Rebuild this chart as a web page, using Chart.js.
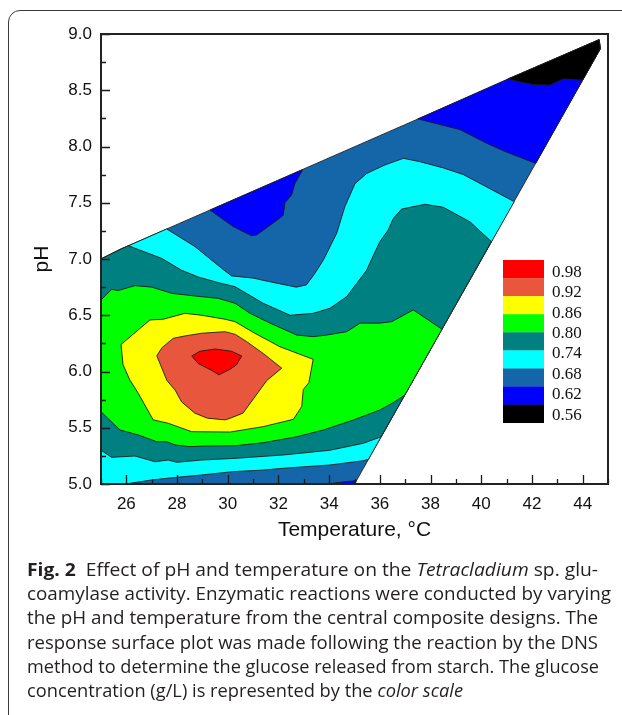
<!DOCTYPE html>
<html><head><meta charset="utf-8">
<script src="https://cdn.jsdelivr.net/npm/chart.js@4.4.1/dist/chart.umd.min.js"></script>
<style>
html,body{margin:0;padding:0;background:#fff;width:622px;height:715px;overflow:hidden;}
#frame{position:absolute;left:8px;top:10px;width:700px;height:800px;border:1px solid #3a3a3a;border-radius:12px;box-sizing:border-box;}
#wrap{position:absolute;left:0;top:0;width:622px;height:560px;}
#cap{position:absolute;left:27px;top:557px;font-family:"Open Sans","Noto Sans",sans-serif;font-size:18px;color:#231f20;}
#cap div{height:24.2px;line-height:24.2px;white-space:nowrap;}
.ln{display:inline-block;transform-origin:0 50%;}
</style></head>
<body>
<div id="frame"></div>
<div id="wrap"><canvas id="c"></canvas></div>
<div id="cap">
<div><span class="ln" data-w="571"><b>Fig. 2</b>&nbsp;&nbsp;Effect of pH and temperature on the <i>Tetracladium</i> sp. glu-</span></div>
<div><span class="ln" data-w="584">coamylase activity. Enzymatic reactions were conducted by varying</span></div>
<div><span class="ln" data-w="571">the pH and temperature from the central composite designs. The</span></div>
<div><span class="ln" data-w="571">response surface plot was made following the reaction by the DNS</span></div>
<div><span class="ln" data-w="572">method to determine the glucose released from starch. The glucose</span></div>
<div><span class="ln" data-w="436">concentration (g/L) is represented by the <i>color scale</i></span></div>
</div>
<script>
// ---- data (Temperature °C, pH) ----
const xTicks = [26, 28, 30, 32, 34, 36, 38, 40, 42, 44];
const yTicks = [5.0, 5.5, 6.0, 6.5, 7.0, 7.5, 8.0, 8.5, 9.0];
const levels = [0.98, 0.92, 0.86, 0.80, 0.74, 0.68, 0.62, 0.56];
const bandColors = ['#ff0000', '#e8573d', '#ffff00', '#00ff00', '#008080', '#00ffff', '#1565a9', '#0000ff', '#000000'];

const domain = [[25,5],[25,7.0],[25.8,7.09],[44.65,8.95],[44.7,8.87],[35,5],[25,5]];
const blueTop = [[37.5,8.245],[41.05,8.6],[44.65,8.95],[44.7,8.87],[44.0,8.59],[42.15,7.85],[41.0,7.95],[40.2,8.03],[39.16,8.15],[37.5,8.245]];
const blackTop = [[41.05,8.6],[44.65,8.95],[44.7,8.87],[44.0,8.59],[43.24,8.6],[42.7,8.545],[42.07,8.55],[41.5,8.575],[41.05,8.6]];
const blueLeft = [[29.3,7.435],[32.96,7.795],[32.65,7.67],[32.52,7.57],[32.26,7.5],[32.19,7.39],[32.13,7.376],[31.14,7.213],[30.94,7.207],[30.61,7.243],[30.2,7.29],[29.3,7.435]];
const blueBottom = [[33.9,5.0],[34.6,5.02],[35.07,5.03],[35.0,5.0],[33.9,5.0]];
const cyanBand = [[25,5],[25,7.0],[25.8,7.09],[27.59,7.267],[28.71,7.11],[29.76,6.917],[30.15,6.85],[31.03,6.83],[31.4,6.81],[32.7,6.75],[33.1,6.77],[33.4,6.86],[33.77,6.99],[34.3,7.23],[34.62,7.465],[35.02,7.67],[35.48,7.76],[36.2,7.836],[36.93,7.895],[37.58,7.865],[38.5,7.81],[39.3,7.75],[40.19,7.643],[41.3,7.51],[35.55,5.22],[35.35,5.207],[34.03,5.169],[32.19,5.14],[31.4,5.124],[30.2,5.11],[28.97,5.08],[27.99,5.06],[27.0,5.036],[25.95,5.0],[25,5]];
const tealBand = [[25,5.30],[25,7.0],[25.8,7.09],[26.08,7.118],[27.39,7.006],[28.18,6.90],[28.84,6.84],[29.63,6.79],[30.29,6.754],[31.4,6.606],[32.46,6.50],[33.37,6.517],[34.03,6.562],[34.69,6.665],[35.09,6.784],[35.48,6.90],[35.6,6.962],[36.0,7.154],[36.33,7.258],[36.53,7.36],[36.86,7.444],[37.78,7.486],[38.5,7.46],[39.56,7.33],[40.4,7.155],[36.05,5.42],[35.35,5.362],[34.03,5.30],[32.19,5.258],[30.29,5.228],[28.97,5.213],[27.99,5.193],[27.65,5.213],[27.13,5.198],[26.34,5.249],[25.42,5.237],[25,5.30]];
const greenBand = [[25,5.643],[25,6.636],[25.42,6.73],[25.68,6.72],[26.34,6.763],[27.0,6.75],[27.79,6.695],[28.71,6.671],[29.63,6.65],[30.29,6.606],[30.88,6.517],[31.67,6.43],[32.72,6.324],[33.37,6.31],[33.9,6.324],[34.69,6.354],[35.22,6.43],[36.0,6.43],[36.47,6.443],[37.32,6.547],[38.45,6.376],[36.98,5.79],[36.5,5.72],[36.0,5.658],[34.95,5.569],[33.77,5.48],[32.72,5.42],[31.4,5.367],[30.29,5.34],[29.17,5.338],[28.51,5.332],[27.92,5.347],[27.6,5.376],[27.2,5.376],[26.47,5.436],[25.75,5.48],[25,5.643]];
const yellowBand = [[25.79,6.24],[26.93,6.458],[27.46,6.465],[28.31,6.517],[28.97,6.50],[29.89,6.465],[30.29,6.443],[31.07,6.34],[32.06,6.22],[33.37,6.108],[33.2,5.9],[32.98,5.84],[32.92,5.69],[32.59,5.575],[31.4,5.51],[30.1,5.462],[28.58,5.465],[27.65,5.54],[27.06,5.57],[26.47,5.806],[26.14,5.924],[25.87,6.06],[25.79,6.24]];
const tomatoBand = [[27.2,6.14],[27.4,6.21],[27.85,6.295],[28.31,6.316],[28.97,6.34],[29.89,6.354],[30.3,6.33],[30.75,6.265],[31.4,6.16],[32.13,6.03],[31.54,5.92],[30.6,5.63],[30.1,5.585],[29.9,5.57],[29.2,5.585],[28.7,5.63],[28.18,5.73],[27.92,5.836],[27.6,5.92],[27.2,6.14]];
const redBand = [[28.58,6.138],[28.9,6.18],[29.5,6.2],[30.15,6.18],[30.55,6.138],[30.35,6.06],[30.09,6.02],[29.65,5.97],[29.37,6.01],[28.84,6.07],[28.58,6.138]];

// drawing order: bottom -> top
const layers = [
  [domain, bandColors[6]],
  [blueTop, bandColors[7]],
  [blackTop, bandColors[8]],
  [blueLeft, bandColors[7]],
  [blueBottom, bandColors[7]],
  [cyanBand, bandColors[5]],
  [tealBand, bandColors[4]],
  [greenBand, bandColors[3]],
  [yellowBand, bandColors[2]],
  [tomatoBand, bandColors[1]],
  [redBand, bandColors[0]]
];

const datasets = layers.map((L, i) => ({
  data: L[0].map(p => ({x: p[0], y: p[1]})),
  showLine: true, pointRadius: 0, pointHoverRadius: 0,
  borderWidth: 0.9, borderColor: '#1e1e1e', backgroundColor: L[1],
  fill: false, tension: 0, order: layers.length - i
}));

const polyFill = {
  id: 'polyFill',
  beforeDatasetDraw(chart, args) {
    const ctx = chart.ctx, a = chart.chartArea;
    const pts = args.meta.data;
    const ds = chart.data.datasets[args.index];
    ctx.save();
    ctx.beginPath(); ctx.rect(a.left, a.top, a.width, a.height); ctx.clip();
    ctx.beginPath();
    pts.forEach((p, i) => i ? ctx.lineTo(p.x, p.y) : ctx.moveTo(p.x, p.y));
    ctx.closePath();
    ctx.fillStyle = ds.backgroundColor;
    ctx.fill();
    ctx.restore();
  }
};

const axisDeco = {
  id: 'axisDeco',
  afterDatasetsDraw(chart) {
    const {ctx, chartArea: a, scales: {x, y}} = chart;
    ctx.save();
    ctx.strokeStyle = '#1a1a1a';
    ctx.lineWidth = 1.3;
    ctx.beginPath();
    for (let v = 25; v <= 45; v++) {
      const px = Math.round(x.getPixelForValue(v)) + 0.5;
      const len = v % 2 === 0 ? 9 : 5;
      ctx.moveTo(px, a.bottom); ctx.lineTo(px, a.bottom - len);
    }
    for (let k = 0; k <= 16; k++) {
      const py = Math.round(y.getPixelForValue(5 + k * 0.25)) + 0.5;
      const len = k % 2 === 0 ? 9 : 5;
      ctx.moveTo(a.left, py); ctx.lineTo(a.left + len, py);
    }
    ctx.stroke();
    ctx.lineWidth = 2;
    ctx.strokeStyle = '#222';
    ctx.strokeRect(a.left, a.top, a.right - a.left, a.bottom - a.top);
    ctx.restore();
  }
};

const colorLegend = {
  id: 'colorLegend',
  afterDraw(chart) {
    const ctx = chart.ctx;
    ctx.save();
    const bx = 503, bw = 41, by = 260, bh = 18.08;
    bandColors.forEach((c, i) => {
      ctx.fillStyle = c;
      ctx.fillRect(bx, by + i * bh, bw, bh + 0.3);
    });
    ctx.fillStyle = '#111';
    ctx.font = '17px "Liberation Serif", "Times New Roman", serif';
    ctx.textBaseline = 'middle';
    ctx.textAlign = 'left';
    levels.forEach((v, i) => {
      ctx.fillText(v.toFixed(2), 552, 272.3 + i * 20.43);
    });
    ctx.restore();
  }
};

const tickFont = {family: '"Liberation Sans", Arial, sans-serif', size: 17};
const titleFont = {family: '"Liberation Sans", Arial, sans-serif', size: 21};

new Chart(document.getElementById('c'), {
  type: 'scatter',
  data: {datasets},
  options: {
    responsive: true, maintainAspectRatio: false, devicePixelRatio: 1,
    animation: false, events: [],
    layout: {padding: {left: 0, top: 34, right: 14, bottom: 17}},
    plugins: {legend: {display: false}, tooltip: {enabled: false}},
    scales: {
      x: {
        type: 'linear', min: 25, max: 45,
        grid: {display: false, drawTicks: false}, border: {display: false},
        afterBuildTicks: s => { s.ticks = xTicks.map(v => ({value: v})); },
        afterFit: s => { s.height = 59; },
        ticks: {padding: 10, font: tickFont, color: '#111', callback: v => String(v)},
        title: {display: true, text: 'Temperature, °C', font: titleFont, color: '#111', padding: 0}
      },
      y: {
        type: 'linear', min: 5, max: 9,
        grid: {display: false, drawTicks: false}, border: {display: false},
        afterBuildTicks: s => { s.ticks = yTicks.map(v => ({value: v})); },
        afterFit: s => { s.width = 101; },
        ticks: {padding: 9, font: tickFont, color: '#111', callback: v => Number(v).toFixed(1)},
        title: {display: true, text: 'pH', font: titleFont, color: '#111', padding: {top: 30, bottom: 0}}
      }
    }
  },
  plugins: [polyFill, axisDeco, colorLegend]
});

document.querySelectorAll('.ln').forEach(el => {
  const t = +el.dataset.w;
  const w = el.getBoundingClientRect().width;
  el.style.transform = 'scaleX(' + (t / w) + ')';
});
</script>
</body></html>
